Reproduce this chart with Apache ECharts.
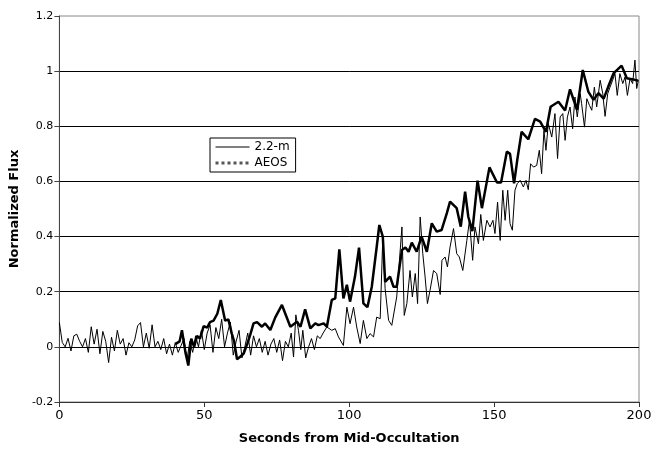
<!DOCTYPE html>
<html><head><meta charset="utf-8">
<script src="https://cdn.jsdelivr.net/npm/echarts@6/dist/echarts.min.js"></script>
<style>html,body{margin:0;padding:0;background:#fff}#c{width:656px;height:454px}</style>
</head><body><div id="c"></div>
<script>
var xTicks = [0, 50, 100, 150, 200];
var yTicks = [-0.2, 0, 0.2, 0.4, 0.6, 0.8, 1, 1.2];
var seriesNames = ['2.2-m', 'AEOS'];
var xTitle = 'Seconds from Mid-Occultation';
var yTitle = 'Normalized Flux';

// 2.2-m (thin line): [seconds, normalized flux]
var data22m = [
[0,0.088],[1,0.016],[2,0.0],[3,0.031],[4,-0.015],[5,0.04],[6,0.046],[7,0.02],[8,0.0],[9,0.03],
[10,-0.02],[11,0.073],[12,0.01],[13,0.064],[14,-0.025],[15,0.056],[16,0.02],[17,-0.057],[18,0.035],[19,-0.015],
[20,0.06],[21,0.01],[22,0.03],[23,-0.03],[24,0.015],[25,0.0],[26,0.025],[27,0.076],[28,0.088],[29,0.0],
[30,0.05],[31,-0.005],[32,0.08],[33,0.0],[34,0.02],[35,-0.01],[36,0.03],[37,-0.025],[38,0.01],[39,-0.03],
[40,0.015],[41,-0.02],[42,0.005],[43,0.03],[44,-0.05],[45,0.02],[46,-0.02],[47,0.04],[48,0.0],[49,0.06],
[50,-0.01],[51,0.05],[52,0.08],[53,-0.02],[54,0.07],[55,0.03],[56,0.1],[57,0.0],[58,0.05],[59,0.09],
[60,-0.03],[61,0.02],[62,0.06],[63,-0.04],[64,0.0],[65,0.05],[66,-0.03],[67,0.04],[68,0.0],[69,0.03],
[70,-0.02],[71,0.02],[72,-0.03],[73,0.01],[74,0.03],[75,-0.02],[76,0.025],[77,-0.05],[78,0.02],[79,0.0],
[80,0.05],[80.8,-0.037],[81.6,0.116],[82.5,0.06],[83.3,-0.01],[84,0.06],[85,-0.04],[86,0.0],[87,0.03],[88,-0.01],
[89,0.04],[90,0.03],[91,0.05],[92.3,0.072],[94,0.06],[95.2,0.066],[96.3,0.036],[98,0.005],[99.2,0.144],[100.3,0.084],
[101.5,0.144],[102.6,0.072],[103.8,0.012],[104.9,0.096],[106.1,0.03],[107.2,0.048],[108.4,0.036],[109.5,0.108],[110.7,0.102],[111.6,0.398],
[112.4,0.211],[113.6,0.096],[114.7,0.078],[116.4,0.181],[118.2,0.435],[119,0.114],[119.9,0.157],[121,0.277],[121.8,0.181],[122.8,0.266],
[123.6,0.157],[124.5,0.471],[125.4,0.338],[126.2,0.253],[127,0.157],[127.9,0.205],[129.1,0.277],[130.2,0.266],[131.4,0.19],[132,0.314],
[133.1,0.326],[133.9,0.29],[134.8,0.362],[136,0.429],[137.1,0.338],[138,0.326],[139.2,0.277],[140.6,0.386],[141.5,0.459],[142.6,0.314],
[143.4,0.435],[144.6,0.374],[145.4,0.48],[146.3,0.386],[147.5,0.459],[148.6,0.435],[149.6,0.459],[150.3,0.411],[151.2,0.525],[152.1,0.386],
[153,0.568],[153.8,0.459],[154.7,0.568],[155.5,0.447],[156.3,0.423],[157.2,0.568],[158,0.592],[159,0.604],[160.1,0.58],[161,0.604],
[161.8,0.57],[162.6,0.664],[163.6,0.652],[164.7,0.658],[165.6,0.713],[166.4,0.628],[167.2,0.785],[167.9,0.713],[168.7,0.81],[169.9,0.761],
[171,0.846],[171.9,0.683],[172.8,0.834],[173.7,0.846],[174.5,0.749],[175.3,0.834],[176.2,0.87],[177.1,0.791],[177.9,0.906],[178.7,0.834],
[179.7,0.918],[180.2,0.882],[181.2,0.797],[182,0.9],[182.9,0.876],[183.7,0.858],[184.6,0.942],[185.4,0.87],[186.6,0.967],[187.5,0.918],
[188.3,0.836],[189.2,0.918],[190,0.942],[190.9,0.967],[191.7,0.991],[192.5,0.912],[193.4,0.991],[194.4,0.955],[195.2,0.979],[196,0.912],
[196.9,0.973],[197.8,0.955],[198.6,1.04],[199.2,0.937],[199.8,0.967]
];

// AEOS (thick line): [seconds, normalized flux]
var dataAEOS = [
[40,0.01],[41.5,0.02],[42.3,0.06],[43.5,-0.02],[44.5,-0.068],[45.5,0.03],[46.5,0.0],[47.5,0.04],[48.5,0.03],[49.8,0.075],
[51,0.07],[52,0.09],[53.2,0.095],[54.5,0.12],[55.7,0.17],[57.2,0.095],[58.3,0.1],[59.5,0.048],[60.3,0.02],[61.3,-0.045],
[62.5,-0.035],[63.6,-0.024],[64.8,0.01],[65.9,0.045],[67,0.085],[68.2,0.09],[69.9,0.073],[71,0.085],[72.8,0.061],[74.5,0.107],
[76.8,0.152],[79.7,0.073],[82,0.091],[83.2,0.073],[84.8,0.136],[86.6,0.067],[88.3,0.085],[89.4,0.079],[91.2,0.085],[92.3,0.073],
[94,0.17],[95.2,0.176],[96.6,0.354],[98,0.176],[99.2,0.225],[100.3,0.164],[102,0.255],[103.4,0.36],[104.9,0.158],[106.3,0.144],
[107.8,0.218],[109.5,0.363],[110.4,0.442],[111.6,0.4],[112.4,0.236],[114.1,0.255],[115.3,0.218],[116.4,0.218],[118.2,0.351],[119.4,0.36],
[120.5,0.345],[121.6,0.378],[123.3,0.345],[125,0.4],[126.8,0.345],[128.5,0.448],[130.2,0.418],[131.9,0.424],[133.7,0.485],[134.8,0.527],
[137.1,0.503],[138.5,0.436],[140,0.563],[141.1,0.472],[142.5,0.42],[144.3,0.603],[145.8,0.503],[148.4,0.651],[151,0.596],[152.4,0.596],
[154.4,0.708],[155.5,0.7],[156.9,0.593],[158,0.678],[159.5,0.78],[161.8,0.753],[164.1,0.827],[165.9,0.817],[167.9,0.78],[169.5,0.871],
[172.2,0.889],[174.5,0.857],[176.2,0.934],[178.6,0.86],[180.6,1.004],[182.5,0.926],[184.3,0.896],[186,0.92],[187.8,0.9],[189.4,0.944],
[191.2,0.992],[194,1.02],[195.8,0.974],[198,0.97],[199.7,0.965]
];

var chart = echarts.init(document.getElementById('c'), null, {renderer: 'canvas'});
var FONT = '"DejaVu Sans", Verdana, sans-serif';
chart.setOption({
  animation: false,
  backgroundColor: '#fff',
  grid: {left: 59, right: 17, top: 16, bottom: 52, show: true, borderColor: '#888', borderWidth: 1, backgroundColor: '#fff'},
  legend: {
    show: true, left: 210, top: 138, orient: 'vertical', itemGap: 4, itemWidth: 34, itemHeight: 12,
    padding: [3, 6, 3, 4], borderColor: '#000', borderWidth: 1, backgroundColor: '#fff',
    textStyle: {fontFamily: FONT, fontSize: 12, color: '#000'},
    itemStyle: {opacity: 0},
    data: [
      {name: seriesNames[0], itemStyle: {opacity: 0}, lineStyle: {width: 1, color: '#000'}},
      {name: seriesNames[1], itemStyle: {opacity: 0}, lineStyle: {width: 3, color: '#555', type: 'dotted'}}
    ]
  },
  xAxis: {
    type: 'value', min: 0, max: 200, interval: 50,
    axisLine: {show: true, onZero: false, lineStyle: {color: '#333', width: 1}},
    axisTick: {show: true, length: 5, lineStyle: {color: '#333'}},
    axisLabel: {fontFamily: FONT, fontSize: 13, color: '#000', margin: 7,
      formatter: function (v) { return xTicks.indexOf(v) >= 0 ? String(v) : ''; }},
    splitLine: {show: false},
    name: xTitle, nameLocation: 'middle', nameGap: 30,
    nameTextStyle: {fontFamily: FONT, fontSize: 13, fontWeight: 'bold', color: '#000'}
  },
  yAxis: {
    type: 'value', min: -0.2, max: 1.2, interval: 0.2,
    axisLine: {show: true, onZero: false, lineStyle: {color: '#444', width: 1}},
    axisTick: {show: true, length: 5, lineStyle: {color: '#444'}},
    axisLabel: {fontFamily: FONT, fontSize: 11, color: '#000', margin: 6,
      formatter: function (v) {
        var r = Math.round(v * 10) / 10;
        for (var i = 0; i < yTicks.length; i++) { if (Math.abs(yTicks[i] - r) < 1e-9) return String(yTicks[i]); }
        return '';
      }},
    splitLine: {show: true, showMinLine: false, showMaxLine: false, lineStyle: {color: '#000', width: 1}},
    name: yTitle, nameLocation: 'middle', nameGap: 29, nameRotate: 90,
    nameTextStyle: {fontFamily: FONT, fontSize: 13, fontWeight: 'bold', color: '#000'}
  },
  series: [
    {name: seriesNames[0], type: 'line', data: data22m, symbol: 'none', showSymbol: false,
      lineStyle: {color: '#000', width: 1}, itemStyle: {color: '#000'}, z: 2},
    {name: seriesNames[1], type: 'line', data: dataAEOS, symbol: 'none', showSymbol: false,
      lineStyle: {color: '#000', width: 2.5}, itemStyle: {color: '#000'}, z: 3}
  ]
});
</script>
</body></html>
